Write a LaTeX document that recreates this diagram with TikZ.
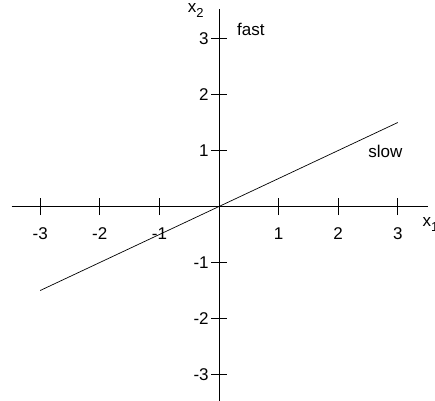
\documentclass[tikz,border=0pt]{standalone}
\usepackage{fontspec}
\setmainfont{Liberation Sans}
\usepackage{tikz}
\usetikzlibrary{positioning}
\newcommand{\axsub}[1]{\raisebox{-5pt}{\fontsize{13}{15}\selectfont #1}}

\begin{document}
\begin{tikzpicture}[x=59.6pt, y=56pt, line width=0.7pt,
    ticklabel/.style={inner sep=0pt, font=\fontsize{17}{19}\selectfont},
    axislabel/.style={inner sep=0pt, font=\fontsize{17}{19}\selectfont}]
  \useasboundingbox (-219pt,-193.5pt) rectangle (216pt,206.5pt);
  % axes
  \coordinate (xmin) at (-3.48,0);
  \coordinate (xmax) at (3.5,0);
  \coordinate (ymin) at (0,-3.5);
  \coordinate (ymax) at (0,3.52);
  \draw (xmin) -- (xmax);
  \draw (ymin) -- (ymax);
  \foreach \i [count=\k] in {-3,-2,-1,1,2,3} {
    \draw (\i,0) +(0pt,-8.5pt) -- +(0pt,8.5pt);
    \node[ticklabel] (xlab\k) at (\i,-0.48) {\i};
    \draw (0,\i) +(-8pt,0pt) -- +(8pt,0pt);
    \node[ticklabel, anchor=east] (ylab\k) at ([xshift=-10pt]0,\i) {\i};
  }
  \node[axislabel, anchor=base west] (xonelab) at (3.41,-0.35) {x\axsub{1}};
  \node[axislabel, anchor=base west] (xtwolab) at (-0.53,3.47) {x\axsub{2}};
  % slow direction
  \coordinate (slowA) at (-3,-1.5);
  \coordinate (slowB) at (3,1.5);
  \draw (slowA) -- (slowB);
  \node[axislabel, anchor=west] (fast) at (0.3,3.17) {fast};
  \node[axislabel, anchor=west] (slow) at (2.5,0.99) {slow};
\end{tikzpicture}
\end{document}
